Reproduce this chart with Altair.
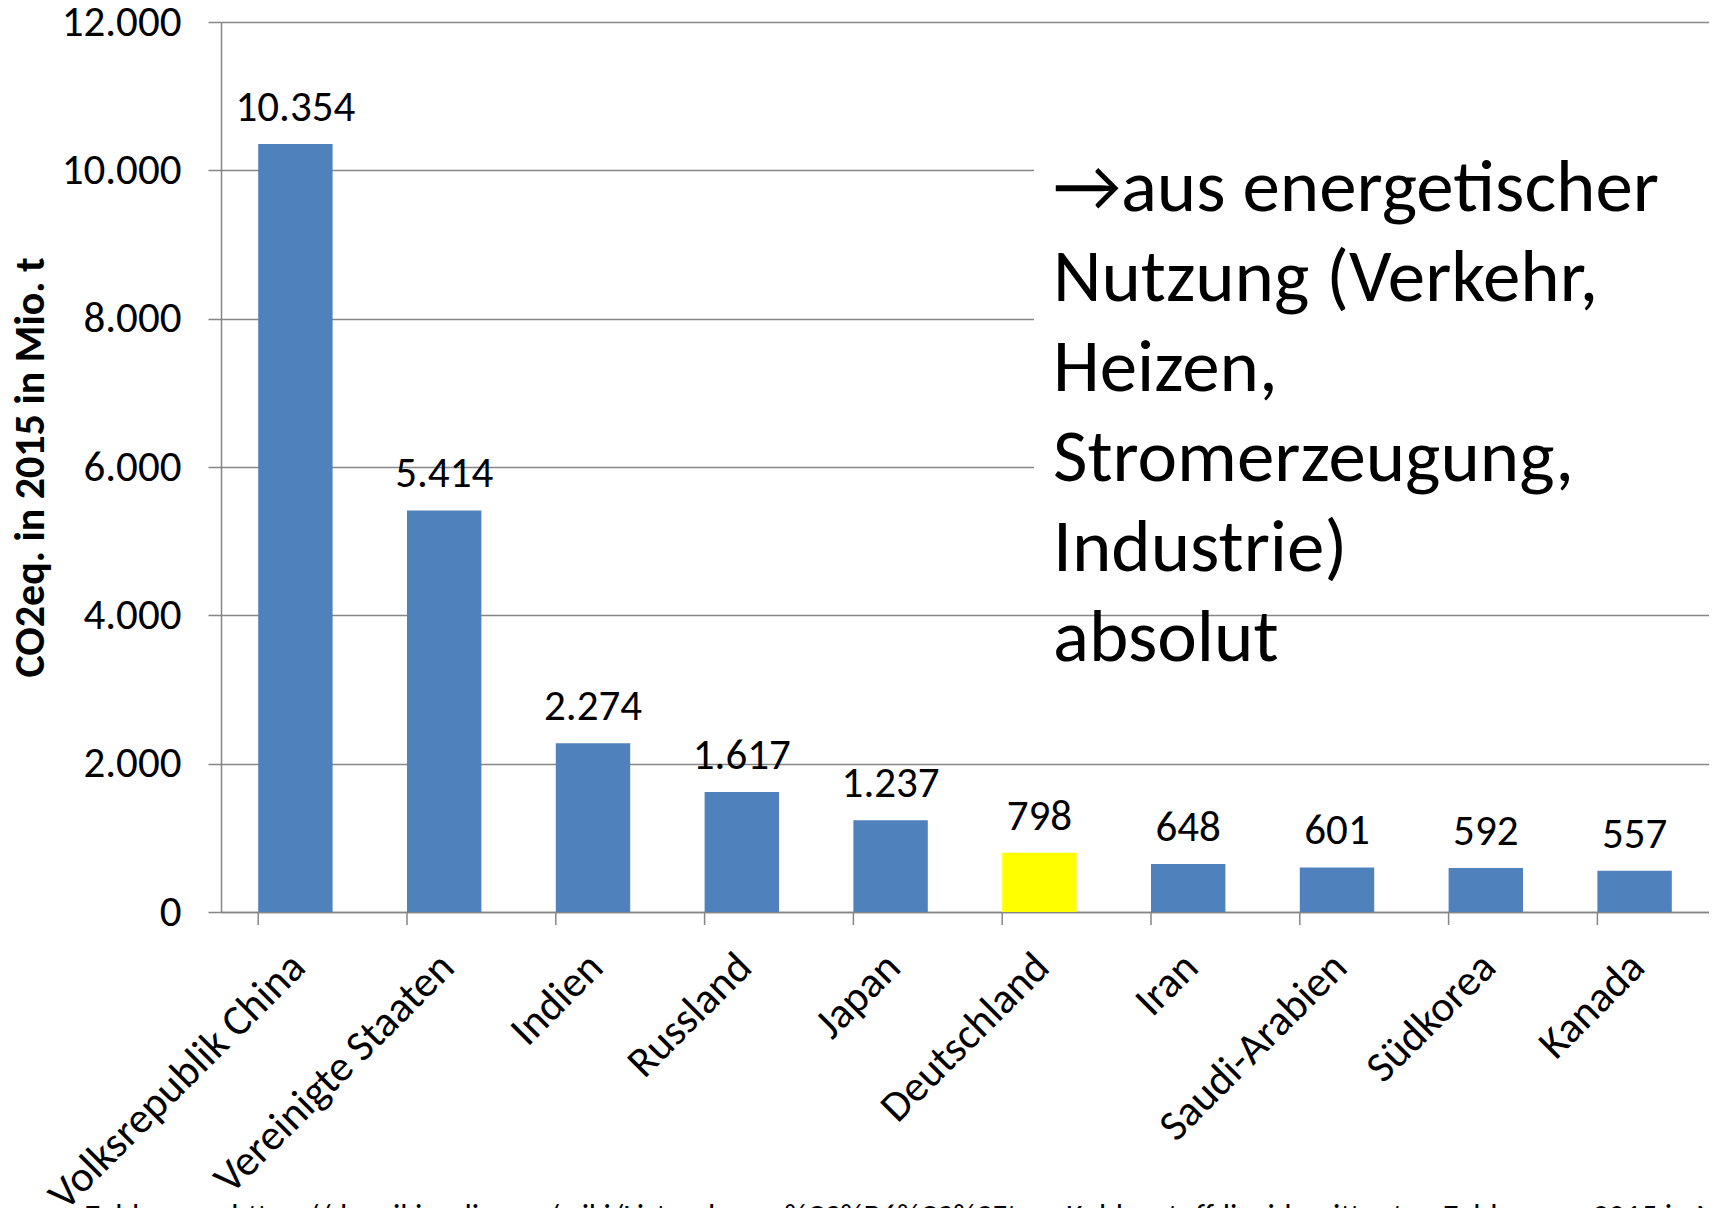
import altair as alt
import pandas as pd

# ---- data ----
countries = ["Volksrepublik China", "Vereinigte Staaten", "Indien", "Russland", "Japan",
             "Deutschland", "Iran", "Saudi-Arabien", "Südkorea", "Kanada"]
values = [10354, 5414, 2274, 1617, 1237, 798, 648, 601, 592, 557]
highlight = "Deutschland"
y_ticks = [0, 2000, 4000, 6000, 8000, 10000, 12000]
y_title = "CO2eq. in 2015 in Mio. t"
note_lines = ["→aus energetischer", "Nutzung (Verkehr,", "Heizen,", "Stromerzeugung,",
              "Industrie)", "absolut"]
source_text = ("Zahlen aus https://de.wikipedia.org/wiki/Liste_der_gr%C3%B6%C3%9Ften_"
               "Kohlenstoffdioxidemittenten  Zahlen von 2015 in Mio. t")

FONT = "Carlito, Lato"
BLUE = "#4F81BD"
YELLOW = "#FFFF00"
GRAY = "#868686"

df = pd.DataFrame({"country": countries, "value": values})
df["hl"] = ["ja" if c == highlight else "nein" for c in countries]

W, H = 1488, 890

base = alt.Chart(df)

xscale = alt.Scale(paddingInner=0.5, paddingOuter=0.25)
yscale = alt.Scale(domain=[0, 12000], nice=False)

bars = base.mark_bar().encode(
    x=alt.X("country:N", sort=countries, scale=xscale, title=None,
            axis=alt.Axis(labelAngle=-45, labelAlign="right", labelBaseline="middle",
                          labelFont=FONT, labelFontSize=43, labelColor="black",
                          labelPadding=48, labelOffset=3, ticks=False, labelLimit=1000,
                          domainColor=GRAY, domainWidth=1.5, labelOverlap=False)),
    y=alt.Y("value:Q", scale=yscale, title=y_title,
            axis=alt.Axis(values=y_ticks,
                          labelExpr="replace(format(datum.value, ','), ',', '.')",
                          labelFont=FONT, labelFontSize=43, labelColor="black",
                          labelPadding=27, tickSize=13, tickColor=GRAY, tickWidth=1.5,
                          domainColor=GRAY, domainWidth=1.5,
                          grid=True, gridColor=GRAY, gridWidth=1.5,
                          titleFont=FONT, titleFontSize=42, titleFontWeight="bold",
                          titleColor="black", titlePadding=9)),
    color=alt.Color("hl:N", scale=alt.Scale(domain=["nein", "ja"], range=[BLUE, YELLOW]),
                    legend=None),
)

xticks = base.mark_rule(color=GRAY, strokeWidth=1.5).encode(
    x=alt.X("country:N", sort=countries, scale=xscale, bandPosition=0),
    y=alt.value(H),
    y2=alt.value(H + 13),
)

labels = base.transform_calculate(
    lbl="replace(format(datum.value, ','), ',', '.')"
).mark_text(baseline="alphabetic", dy=-23, font=FONT, fontSize=43, color="black").encode(
    x=alt.X("country:N", sort=countries, scale=xscale),
    y=alt.Y("value:Q", scale=yscale),
    text="lbl:N",
)

one = alt.Data(values=[{"k": 1}])

box = alt.Chart(one).mark_rect(color="white").encode(
    x=alt.value(813), x2=alt.value(W), y=alt.value(88), y2=alt.value(578)
)

note = alt.Chart(one).mark_text(
    align="left", baseline="alphabetic", font=FONT, fontSize=75, lineHeight=90,
    color="black"
).encode(x=alt.value(832), y=alt.value(189), text=alt.value(note_lines))

source = alt.Chart(one).mark_text(
    align="left", baseline="top", font=FONT, fontSize=32, color="black"
).encode(x=alt.value(85 - 221), y=alt.value(1180), text=alt.value(source_text))

chart = alt.layer(bars, xticks, labels, box, note, source).properties(
    width=W, height=H,
    autosize=alt.AutoSizeParams(type="none"),
    padding={"left": 213, "top": 14, "right": 0, "bottom": 300},
).configure_view(stroke=None)

chart.save("out.html", embed_options={"renderer": "svg", "actions": False})
